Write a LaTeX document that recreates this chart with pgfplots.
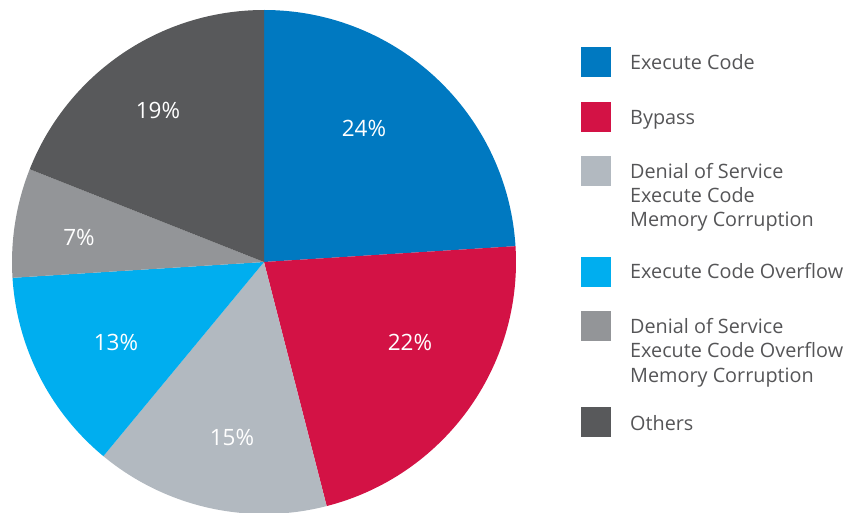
\documentclass[border=0pt]{standalone}
\usepackage{pgfplots}
\pgfplotsset{compat=1.18}
\usepackage{fontspec}
\setmainfont{Open Sans}
\definecolor{cA}{HTML}{0079C1}
\definecolor{cB}{HTML}{D31245}
\definecolor{cC}{HTML}{B2B9C0}
\definecolor{cD}{HTML}{00AEEF}
\definecolor{cE}{HTML}{939598}
\definecolor{cF}{HTML}{58595B}
\definecolor{txt}{HTML}{555557}
\begin{document}
\begin{tikzpicture}
\begin{axis}[
  at={(0,0)}, anchor=south west,
  scale only axis, width=860pt, height=512pt,
  xmin=0, xmax=860, ymin=0, ymax=512,
  hide axis, clip=true,
]
% pie: center (264,250), radius 252; values in percent, clockwise from top
\def\cx{264}\def\cy{250}\def\R{252}
\foreach \v/\col [remember=\se as \ss (initially 90)] in {24/cA,22/cB,15/cC,13/cD,7/cE,19/cF}{
  \pgfmathsetmacro{\se}{\ss-3.6*\v}
  \edef\tmp{\noexpand\fill[\col] (axis cs:\cx,\cy) -- ++(\ss:\R pt) arc[start angle=\ss, end angle=\se, radius=\R pt] -- cycle;}
  \tmp
}
% slice labels
\foreach \x/\y/\t in {364/384/24, 410/170/22, 232/75/15, 116/170/13, 79/275/7, 158/402/19}{
  \edef\tmp{\noexpand\node[white, font=\noexpand\fontsize{22.5}{26}\noexpand\selectfont] at (axis cs:\x,\y) {\t\noexpand\%};}
  \tmp
}
% legend squares
\foreach \yt/\col in {47/cA,102/cB,156/cC,257/cD,311/cE,407/cF}{
  \pgfmathsetmacro{\ya}{512-\yt}\pgfmathsetmacro{\yb}{512-\yt-30}
  \edef\tmp{\noexpand\fill[\col] (axis cs:581,\ya) rectangle (axis cs:611,\yb);}
  \tmp
}
% legend text (baselines in px from top)
\foreach \yb/\t in {70/Execute Code, 125/Bypass, 179/Denial of Service, 203/Execute Code, 227/Memory Corruption, 279/Execute Code Overflow, 334/Denial of Service, 358/Execute Code Overflow, 383/Memory Corruption, 430/Others}{
  \pgfmathsetmacro{\yy}{512-\yb}
  \edef\tmp{\noexpand\node[anchor=base west, inner sep=0pt, text=txt, font=\noexpand\fontsize{19.8}{23}\noexpand\selectfont] at (axis cs:630,\yy) {\t};}
  \tmp
}
\end{axis}
\pgfresetboundingbox
\useasboundingbox (0,0) rectangle (860pt,512pt);
\end{tikzpicture}
\end{document}
